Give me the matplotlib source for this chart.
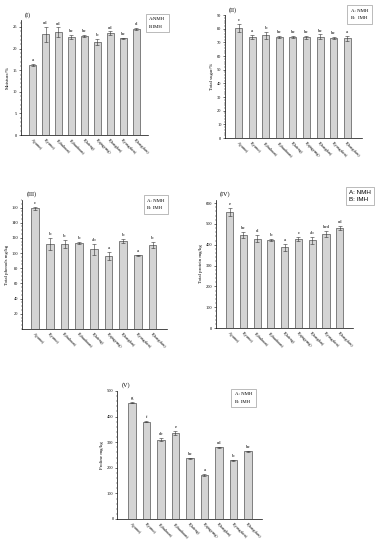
#Five bar charts of quality indices for the honey samples

import numpy as np
import matplotlib.pyplot as plt

plt.rcParams['font.family'] = 'Liberation Serif'

samples = ["A(yumo)", "B(yumo)", "B(chuhuan)", "B(chunhuan)", "B(lufeng)",
           "B(qingyang)", "B(hongdan)", "B(yongzhen)", "B(hongshan)"]

moisture = [16.2, 23.3, 23.8, 22.7, 22.9, 21.6, 23.6, 22.4, 24.5]
moisture_err = [0.3, 1.8, 1.1, 0.4, 0.2, 0.7, 0.4, 0.1, 0.3]
moisture_sig = ["a", "cd", "cd", "bc", "bc", "b", "cd", "bc", "d"]

sugar = [80.3, 74.0, 75.3, 74.0, 74.0, 73.8, 74.3, 73.2, 73.0]
sugar_err = [3.0, 1.5, 2.5, 0.5, 0.8, 1.2, 1.5, 0.7, 2.0]
sugar_sig = ["c", "a", "b", "bc", "bc", "bc", "bc", "bc", "a"]

phenols = [159, 112, 112, 113.5, 105, 96, 116, 97, 110]
phenols_err = [2, 8, 5, 1, 7, 5, 3, 1, 4]
phenols_sig = ["c", "b", "b", "b", "ab", "a", "b", "a", "b"]

protein = [558, 448, 430, 423, 387, 426, 421, 453, 482]
protein_err = [20, 15, 15, 5, 15, 10, 15, 15, 10]
protein_sig = ["e", "bc", "d", "b", "a", "c", "ab", "bcd", "cd"]

proline = [455, 380, 310, 335, 237, 172, 280, 230, 265]
proline_err = [3, 3, 5, 8, 2, 5, 2, 2, 2]
proline_sig = ["g", "f", "de", "e", "bc", "a", "cd", "b", "bc"]

fig = plt.figure(figsize=(3.8, 5.5), dpi=100)

'''one panel: bars, error bars, letters, legend box'''
def panel(rect, vals, errs, sig, ylab, tag, ylim, yticks, xlim, leg, leg_pos, sans=False):
    ax = fig.add_axes(rect)
    x = np.arange(len(vals))
    ax.bar(x, vals, 0.52, color='#d4d4d4', edgecolor='#555555', linewidth=0.5)
    ax.errorbar(x, vals, yerr=errs, fmt='none', ecolor='#333333', elinewidth=0.4, capsize=1.2, capthick=0.4)
    for xi, v, e, s in zip(x, vals, errs, sig):
        ax.text(xi, v + e + ylim * 0.015, s, ha='center', va='bottom', fontsize=3.5)
    ax.set_xlim(*xlim)
    ax.set_ylim(0, ylim)
    ax.set_yticks(yticks)
    ax.set_xticks(x)
    ax.set_xticklabels(samples, rotation=-45, ha='left', rotation_mode='anchor', fontsize=2.8)
    ax.tick_params(axis='y', labelsize=3.2, length=1.5, width=0.4, pad=1)
    ax.tick_params(axis='x', length=0, pad=2)
    ax.minorticks_on()
    ax.tick_params(axis='x', which='minor', length=0)
    ax.tick_params(axis='y', which='minor', length=0.8, width=0.3)
    ax.spines['top'].set_visible(False)
    ax.spines['right'].set_visible(False)
    ax.spines['left'].set_linewidth(0.5)
    ax.spines['bottom'].set_linewidth(0.5)
    ax.set_ylabel(ylab, fontsize=3.5, labelpad=2)
    ax.text(0.03, 1.02, tag, transform=ax.transAxes, fontsize=4.5, va='bottom')
    if sans:
        fig.text(leg_pos[0] + 0.008, leg_pos[1] - 0.006, leg, fontsize=4.5, family='Liberation Sans',
                 va='top', linespacing=1.5,
                 bbox=dict(boxstyle='square,pad=0.5', fc='white', ec='#888888', lw=0.4))
    else:
        fig.text(leg_pos[0] + 0.008, leg_pos[1] - 0.006, leg, fontsize=3.5,
                 va='top', linespacing=2.2,
                 bbox=dict(boxstyle='square,pad=0.7', fc='white', ec='#888888', lw=0.4))
    return ax

panel([0.055, 0.7545, 0.334, 0.209], moisture, moisture_err, moisture_sig, "Moisture/%", "(I)",
      26.6, [0, 5, 10, 15, 20, 25], (-0.9, 8.9), "A:NMH\nB:IMH", (0.385, 0.975))
panel([0.592, 0.749, 0.361, 0.2236], sugar, sugar_err, sugar_sig, "Total sugar/%", "(II)",
      90, np.arange(0, 91, 10), (-1, 9.1), "A: NMH\nB:  IMH", (0.915, 0.99))
panel([0.058, 0.402, 0.382, 0.2345], phenols, phenols_err, phenols_sig, "Total phenols mg/kg", "(III)",
      170, np.arange(20, 161, 20), (-0.9, 9.0), "A: NMH\nB: IMH", (0.38, 0.645))
panel([0.568, 0.4036, 0.3605, 0.2327], protein, protein_err, protein_sig, "Total protein mg/kg", "(IV)",
      615, np.arange(0, 601, 100), (-1, 8.95), "A: NMH\nB: IMH", (0.91, 0.66), sans=True)
panel([0.308, 0.0564, 0.3816, 0.2327], proline, proline_err, proline_sig, "Proline mg/kg", "(V)",
      500, np.arange(0, 501, 100), (-1.03, 8.97), "A: NMH\nB: IMH", (0.61, 0.293))

plt.savefig('out.png', dpi=100)
